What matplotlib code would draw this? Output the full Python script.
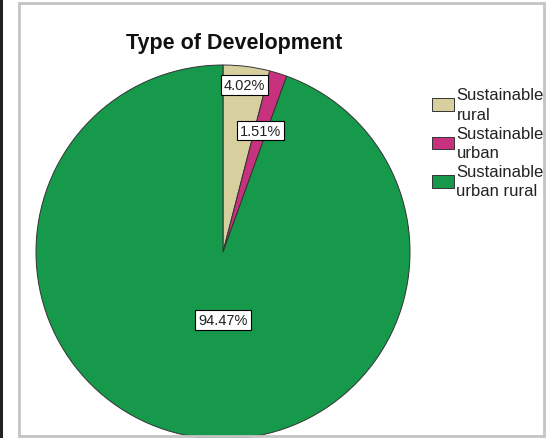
import matplotlib.pyplot as plt
import numpy as np
from matplotlib.patches import Patch, Rectangle

# data
categories = ["Sustainable\nrural", "Sustainable\nurban", "Sustainable\nurban rural"]
shares = [4.02, 1.51, 94.47]
colors = ["#d8cf9e", "#c8317e", "#16994a"]
label_radius = [0.90, 0.68, 0.37]

plt.rcParams["font.family"] = ["Liberation Sans", "DejaVu Sans"]

W, H = 555, 439
fig = plt.figure(figsize=(W / 100, H / 100), dpi=100)

# outer decorations: dark strip on the left and light grey frame
fig.add_artist(Rectangle((0, 0), 3 / W, 1, transform=fig.transFigure,
                         facecolor="#222222", edgecolor="none"))
fig.add_artist(Rectangle((19 / W, 2 / H), (544 - 19) / W, (435 - 2) / H,
                         transform=fig.transFigure, facecolor="none",
                         edgecolor="#c4c4c4", linewidth=2, zorder=5))

# pie axes, centre (223, 253) px from top-left, radius 187 px
cx, cy, r = 223, H - 253, 187
ax = fig.add_axes([(cx - r) / W, (cy - r) / H, 2 * r / W, 2 * r / H])
wedges, _ = ax.pie(shares, colors=colors, startangle=90, counterclock=False,
                   radius=1, wedgeprops=dict(edgecolor="#333333", linewidth=0.7))
ax.set_xlim(-1, 1)
ax.set_ylim(-1, 1)
ax.axis("off")

# percentage labels in white boxes
start = 90.0
for val, rad in zip(shares, label_radius):
    mid = np.deg2rad(start - val * 3.6 / 2)
    start -= val * 3.6
    x = rad * np.cos(mid)
    if val > 50:
        x = 0.0
    ax.text(x, rad * np.sin(mid), f"{val:.2f}%",
            ha="center", va="center", fontsize=10.5, color="#222222",
            bbox=dict(boxstyle="square,pad=0.2", facecolor="white",
                      edgecolor="black", linewidth=0.8))

fig.text(234 / W, 1 - 44 / H, "Type of Development", ha="center", va="center",
         fontsize=15.5, fontweight="bold", color="#111111")

handles = [Patch(facecolor=c, edgecolor="#333333", linewidth=0.7) for c in colors]
leg = fig.legend(handles, categories, loc="upper left",
                 bbox_to_anchor=(424 / W, 1 - 80 / H), frameon=False,
                 fontsize=12, labelspacing=0.25, handlelength=1.3,
                 handleheight=0.8, handletextpad=0.15, borderpad=0)
for t in leg.get_texts():
    t.set_linespacing(1.35)
    t.set_color("#222222")

fig.savefig("out.png", dpi=100)
